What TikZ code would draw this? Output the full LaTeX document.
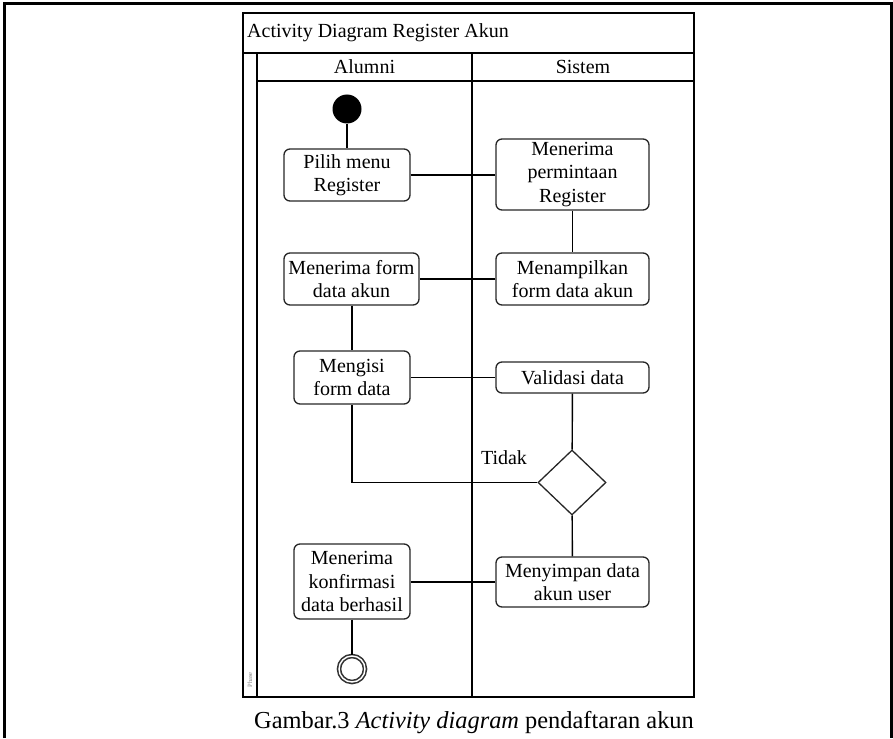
\documentclass[tikz,border=0pt]{standalone}
\usepackage{fontspec}
\setmainfont{Liberation Serif}
\usetikzlibrary{shapes.geometric}
\begin{document}
\begin{tikzpicture}[x=1pt,y=-1pt,
  lane/.style={line width=1.4pt,draw=black},
  flow/.style={line width=1.4pt,draw=black},
  act/.style={draw=black!85,line width=1.3pt,rounded corners=6pt,align=center,
    font=\fontsize{20}{23.3}\selectfont,inner sep=0pt},
  decide/.style={diamond,draw=black!85,line width=1.3pt,inner sep=0pt,
    minimum width=68pt,minimum height=65pt},
  lbl/.style={font=\fontsize{20}{24}\selectfont,inner sep=0pt}]
\useasboundingbox (0,0) rectangle (893,738);
% page frame (open at the bottom)
\draw[line width=3pt] (4,738) -- (4,4) -- (891.5,4) -- (891.5,738);
% swimlane frame
\draw[lane] (243,13) rectangle (694,697);
\draw[lane] (243,53) -- (694,53);
\draw[lane] (257,53) -- (257,697);
\draw[lane] (257,81) -- (694,81);
\draw[lane] (472,53) -- (472,697);
\node[lbl,anchor=west] (title) at (247,33) {Activity Diagram Register Akun};
\node[lbl] (alumni) at (364.5,67) {Alumni};
\node[lbl] (sistem) at (583,67) {Sistem};
\node[rotate=90,font=\fontsize{6.5}{6.5}\selectfont,text=black!50,inner sep=0pt] (phase) at (250,680) {Phase};
% activities
\node[circle,fill=black,minimum size=29pt,inner sep=0pt] (start) at (347,109) {};
\node[act,minimum width=126pt,minimum height=52pt] (pilih) at (347,175) {Pilih menu\\Register};
\node[act,minimum width=153pt,minimum height=71pt] (terima) at (572.5,174.5) {Menerima\\permintaan\\Register};
\node[act,minimum width=135pt,minimum height=52pt] (form) at (351.5,279) {Menerima form\\data akun};
\node[act,minimum width=153pt,minimum height=52pt] (tampil) at (572.5,279) {Menampilkan\\form data akun};
\node[act,minimum width=116pt,minimum height=53pt] (isi) at (352,377.5) {Mengisi\\form data};
\node[act,minimum width=153pt,minimum height=31pt] (valid) at (572.5,377.5) {Validasi data};
\node[decide] (cek) at (572,482.5) {};
\node[act,minimum width=153pt,minimum height=50pt] (simpan) at (572.5,582) {Menyimpan data\\akun user};
\node[act,minimum width=116pt,minimum height=75pt] (konf) at (352,581.5) {Menerima\\konfirmasi\\data berhasil};
\node[circle,draw=black!80,double=white,double distance=1.4pt,line width=1.6pt,minimum size=26pt,inner sep=0pt] (end) at (352,669) {};
\node[lbl] (tidak) at (504,458) {Tidak};
% control flow
\draw[flow] (start) -- (pilih);
\draw[flow] (pilih) -- (terima.west |- pilih.east);
\draw[flow] (terima) -- (tampil);
\draw[flow] (tampil) -- (form);
\draw[flow] (isi.north |- form.south) -- (isi.north);
\draw[flow] (isi.east) -- (valid.west |- isi.east);
\draw[flow] (valid) -- (cek);
\draw[flow] (cek.west) -| (isi.south);
\draw[flow] (cek) -- (simpan);
\draw[flow] (simpan.west) -- (konf.east |- simpan.west);
\draw[flow] (konf) -- (end);
% caption
\node[font=\fontsize{24.4}{28}\selectfont,inner sep=0pt] (caption) at (474,723) {Gambar.3 \textit{Activity diagram} pendaftaran akun};
\end{tikzpicture}
\end{document}
